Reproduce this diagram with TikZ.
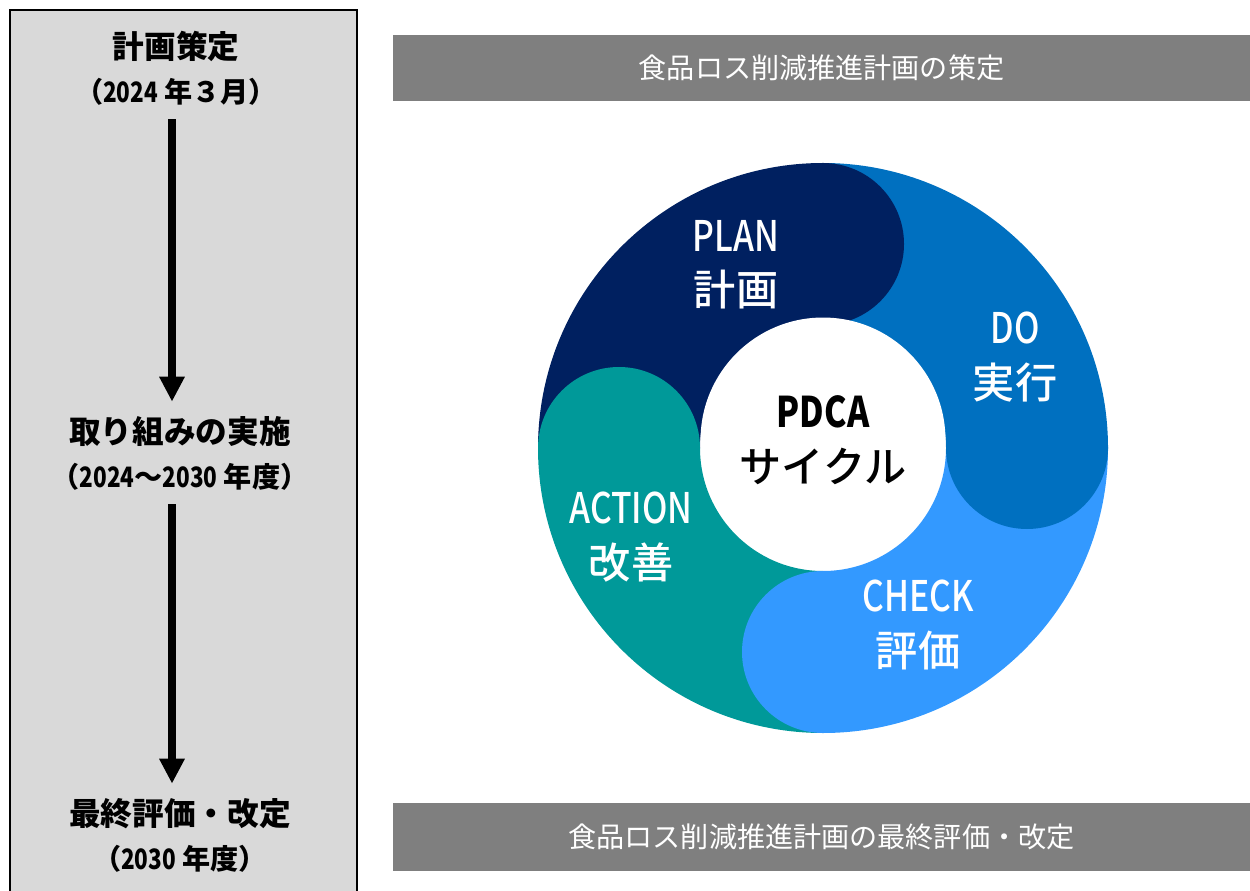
\documentclass[tikz,border=0pt]{standalone}
\usepackage{fontspec}
\setmainfont{Noto Sans CJK JP}
\newfontfamily\condfont{Noto Sans CJK JP}[FakeStretch=0.8]
\newfontfamily\medfont{Noto Sans CJK JP Medium}
\newfontfamily\condmedfont{Noto Sans CJK JP Medium}[FakeStretch=0.8]
\usetikzlibrary{arrows.meta,positioning}

\definecolor{plancol}{HTML}{002060}
\definecolor{docol}{HTML}{0070C0}
\definecolor{checkcol}{HTML}{3399FF}
\definecolor{actcol}{HTML}{009999}
\definecolor{panelgray}{HTML}{D9D9D9}
\definecolor{bargray}{HTML}{7F7F7F}

\begin{document}
\begin{tikzpicture}[
    x=0.02cm, y=0.02cm,
    >={Triangle[length=0.5cm,width=0.48cm]},
    stage/.style={
        align=center,
        font=\bfseries\fontsize{18}{28}\selectfont,
        inner sep=2pt
    },
    bar/.style={
        rectangle,
        fill=bargray,
        text=white,
        minimum width=17.14cm,
        font=\fontsize{16}{20}\selectfont
    },
    seglabel/.style={
        align=center,
        text=white,
        font=\medfont\fontsize{24}{31}\selectfont
    },
    flow/.style={->, line width=4.5pt, shorten <=6pt, shorten >=6pt}
]
\useasboundingbox (0,0) rectangle (1250,-891);

% Left panel
\draw[fill=panelgray, line width=1.4pt] (10,-10) rectangle (357,-920);

\node[stage] (plan) at (176,-68)
    {計画策定\\[-3pt]{\fontsize{16}{20}\selectfont （{\condfont 2024} 年３月）}};
\node[stage] (exec) at (180,-453)
    {取り組みの実施\\[-3pt]{\fontsize{16}{20}\selectfont （{\condfont 2024}～{\condfont 2030} 年度）}};
\node[stage] (final) at (180,-835)
    {最終評価・改定\\[-3pt]{\fontsize{16}{20}\selectfont （{\condfont 2030} 年度）}};

\draw[flow] (plan.south -| 172,0) -- (exec.north -| 172,0);
\draw[flow] (exec.south -| 172,0) -- (final.north -| 172,0);

% Bars
\node[bar, minimum height=1.32cm] (topbar) at (821.5,-68) {食品ロス削減推進計画の策定};
\node[bar, minimum height=1.36cm] (botbar) at (821.5,-837) {食品ロス削減推進計画の最終評価・改定};

% PDCA ring
\begin{scope}[shift={(823,-448)}]
\fill[plancol] (180:285) arc[start angle=180, end angle=90, radius=285]
    -- (90:123) arc[start angle=90, end angle=180, radius=123] -- cycle;
\fill[docol] (90:285) arc[start angle=90, end angle=0, radius=285]
    -- (0:123) arc[start angle=0, end angle=90, radius=123] -- cycle;
\fill[checkcol] (0:285) arc[start angle=0, end angle=-90, radius=285]
    -- (-90:123) arc[start angle=-90, end angle=0, radius=123] -- cycle;
\fill[actcol] (-90:285) arc[start angle=-90, end angle=-180, radius=285]
    -- (180:123) arc[start angle=180, end angle=270, radius=123] -- cycle;
% rounded heads
\fill[plancol] (90:204) circle[radius=81];
\fill[docol] (0:204) circle[radius=81];
\fill[checkcol] (-90:204) circle[radius=81];
\fill[actcol] (180:204) circle[radius=81];
\end{scope}

\node[circle, fill=white, minimum size=4.9cm, align=center,
      font=\medfont\fontsize{24}{31}\selectfont] (hub) at (823,-440)
    {{\condfont\bfseries PDCA}\\サイクル};

\node[seglabel] (planlbl) at (736,-265) {{\condmedfont PLAN}\\計画};
\node[seglabel] (dolbl) at (1015,-357) {{\condmedfont DO}\\実行};
\node[seglabel] (checklbl) at (918,-625) {{\condmedfont CHECK}\\評価};
\node[seglabel] (actlbl) at (631,-537) {{\condmedfont ACTION}\\改善};

\end{tikzpicture}
\end{document}
